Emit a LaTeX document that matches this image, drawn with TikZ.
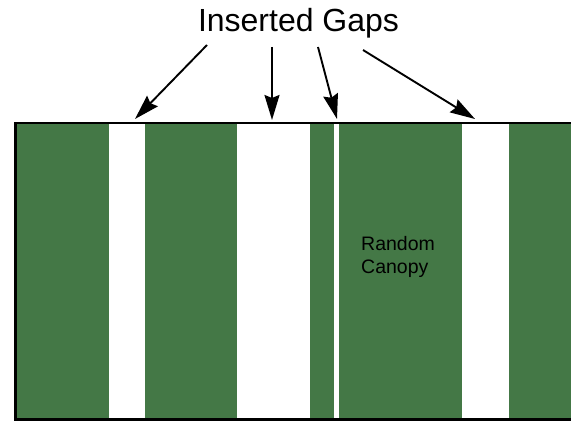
\documentclass[tikz,border=0pt]{standalone}
\usepackage{fontspec}
\setmainfont{Liberation Sans}
\usetikzlibrary{arrows.meta}
\definecolor{canopy}{RGB}{68,120,70}
\begin{document}
\begin{tikzpicture}[x=1pt,y=-1pt,
  strip/.style={fill=canopy,draw=none},
  gaparrow/.style={line width=1.9pt,-{Stealth[length=25pt,width=15pt,inset=3pt]}},
  border/.style={line width=2.6pt,line cap=rect}]
\useasboundingbox[fill=white] (0,0) rectangle (571,422);
% canopy strips
\fill[strip] (16,124) rectangle (109,419);
\fill[strip] (145,124) rectangle (237,419);
\fill[strip] (310,124) rectangle (334,419);
\fill[strip] (339,124) rectangle (462,419);
\fill[strip] (509,124) rectangle (571,419);
% border
\draw[border] (572,123) -- (15.5,123) -- (15.5,419.5) -- (572,419.5);
% labels
\node[font=\fontsize{32}{36}\selectfont,anchor=base] (title) at (298.5,32) {Inserted Gaps};
\node[font=\fontsize{19.5}{23}\selectfont,align=left,anchor=north west,inner sep=0pt] (canopy) at (361,236) {Random\\Canopy};
% arrow starts and gap targets
\coordinate (s1) at (207,45);
\coordinate (s2) at (272,47);
\coordinate (s3) at (318,47);
\coordinate (s4) at (363,50);
\coordinate (g1) at (135,119);
\coordinate (g2) at (272,120);
\coordinate (g3) at (337,119);
\coordinate (g4) at (475,119);
\draw[gaparrow] (s1) -- (g1);
\draw[gaparrow] (s2) -- (g2);
\draw[gaparrow] (s3) -- (g3);
\draw[gaparrow] (s4) -- (g4);
\end{tikzpicture}
\end{document}
